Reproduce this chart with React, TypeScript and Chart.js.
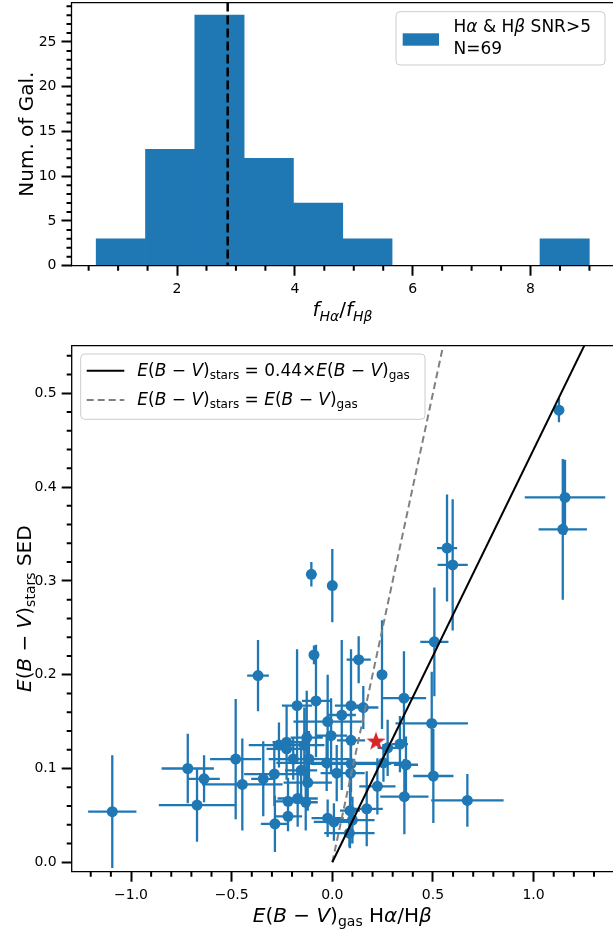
import React, { useEffect, useRef } from 'react';
import { Chart, registerables } from 'chart.js';

Chart.register(...registerables);
Chart.defaults.font.family = '"DejaVu Sans", sans-serif';

const BLUE = '#1f77b4';

// ---------- histogram (top) ----------
const binEdges = [0.628, 1.465, 2.302, 3.139, 3.976, 4.813, 5.65, 6.487, 7.324, 8.161, 8.998];
const binCounts = [3, 13, 28, 12, 7, 3, 0, 0, 0, 3];
const caseBRatio = 2.86;
const histXTicks = [2, 4, 6, 8];
const histYTicks = [0, 5, 10, 15, 20, 25];

// ---------- E(B-V) scatter (bottom) ----------
const gasEBV = [
  -1.093, -0.718, -0.637, -0.672, -0.48, -0.447, -0.369, -0.343, -0.285, -0.288,
  -0.265, -0.227, -0.227, -0.22, -0.22, -0.194, -0.175, -0.172, -0.155, -0.139,
  -0.127, -0.132, -0.122, -0.116, -0.081, -0.091, -0.023, -0.006, -0.028, 0.022,
  -0.023, 0.008, 0.047, 0.093, 0.093, 0.093, 0.091, 0.088, 0.085, 0.131,
  0.247, 0.507, 0.154, 0.356, 0.494, 0.275, 0.336, 0.254, 0.366, 0.502,
  0.224, 0.358, 0.671, 0.171, 0.1, -0.104, 0.0, 1.126, 1.156, 1.145,
  0.57, 0.598,
];
const starsEBV = [
  0.054, 0.1, 0.089, 0.061, 0.11, 0.083, 0.199, 0.089, 0.041, 0.094,
  0.125, 0.128, 0.121, 0.065, 0.049, 0.11, 0.167, 0.068, 0.098, 0.125,
  0.133, 0.064, 0.085, 0.11, 0.172, 0.221, 0.15, 0.135, 0.106, 0.095,
  0.047, 0.043, 0.157, 0.167, 0.13, 0.105, 0.095, 0.055, 0.031, 0.216,
  0.2, 0.235, 0.165, 0.175, 0.148, 0.122, 0.126, 0.106, 0.104, 0.092,
  0.081, 0.07, 0.066, 0.057, 0.045, 0.307, 0.295, 0.482, 0.389, 0.355,
  0.335, 0.317,
];
const gasErr = [
  0.12, 0.13, 0.078, 0.19, 0.127, 0.2, 0.054, 0.06, 0.07, 0.15,
  0.15, 0.07, 0.1, 0.07, 0.07, 0.066, 0.075, 0.1, 0.08, 0.1,
  0.08, 0.06, 0.12, 0.2, 0.07, 0.01, 0.17, 0.08, 0.25, 0.08,
  0.08, 0.1, 0.07, 0.08, 0.07, 0.2, 0.07, 0.05, 0.125, 0.06,
  0.02, 0.07, 0.075, 0.11, 0.18, 0.05, 0.04, 0.09, 0.06, 0.1,
  0.09, 0.12, 0.18, 0.08, 0.11, 0.01, 0.01, 0.01, 0.2, 0.12,
  0.05, 0.075,
];
const starsErr = [
  0.06, 0.037, 0.025, 0.039, 0.064, 0.049, 0.038, 0.04, 0.03, 0.034,
  0.024, 0.04, 0.03, 0.025, 0.016, 0.022, 0.06, 0.03, 0.03, 0.04,
  0.05, 0.03, 0.03, 0.03, 0.06, 0.01, 0.05, 0.04, 0.03, 0.03,
  0.02, 0.02, 0.08, 0.06, 0.03, 0.03, 0.03, 0.04, 0.015, 0.025,
  0.058, 0.058, 0.023, 0.05, 0.055, 0.03, 0.03, 0.02, 0.03, 0.05,
  0.03, 0.04, 0.028, 0.04, 0.025, 0.013, 0.039, 0.013, 0.04, 0.075,
  0.057, 0.07,
];
const highlightGas = [0.217];
const highlightStars = [0.1286];
const fitSlope = 0.44;
const lineX = [0, 1.4];
const oneToOneX = [0, 0.6];
const scatXTicks = [-1, -0.5, 0, 0.5, 1];
const scatYTicks = [0, 0.1, 0.2, 0.3, 0.4, 0.5];

// ---------- helpers ----------
type Seg = { t: string; i?: boolean; s?: number; dy?: number };
const fontStr = (s: number, italic?: boolean) =>
  `${italic ? 'italic ' : ''}${s}px "DejaVu Sans", sans-serif`;

function richWidth(ctx: CanvasRenderingContext2D, segs: Seg[], base: number) {
  let w = 0;
  for (const g of segs) {
    ctx.font = fontStr(g.s ?? base, g.i);
    w += ctx.measureText(g.t).width;
  }
  return w;
}
function drawRich(
  ctx: CanvasRenderingContext2D, segs: Seg[], x: number, y: number, base: number, align: 'left' | 'center' = 'left'
) {
  let cx = align === 'center' ? x - richWidth(ctx, segs, base) / 2 : x;
  ctx.textAlign = 'left';
  ctx.textBaseline = 'alphabetic';
  for (const g of segs) {
    ctx.font = fontStr(g.s ?? base, g.i);
    ctx.fillText(g.t, cx, y + (g.dy ?? 0));
    cx += ctx.measureText(g.t).width;
  }
}
function drawRotated(ctx: CanvasRenderingContext2D, segs: Seg[], x: number, y: number, base: number) {
  ctx.save();
  ctx.translate(x, y);
  ctx.rotate(-Math.PI / 2);
  drawRich(ctx, segs, 0, 0, base, 'center');
  ctx.restore();
}
function roundBox(ctx: CanvasRenderingContext2D, x: number, y: number, w: number, h: number, r: number) {
  ctx.beginPath();
  ctx.moveTo(x + r, y);
  ctx.lineTo(x + w - r, y);
  ctx.quadraticCurveTo(x + w, y, x + w, y + r);
  ctx.lineTo(x + w, y + h - r);
  ctx.quadraticCurveTo(x + w, y + h, x + w - r, y + h);
  ctx.lineTo(x + r, y + h);
  ctx.quadraticCurveTo(x, y + h, x, y + h - r);
  ctx.lineTo(x, y + r);
  ctx.quadraticCurveTo(x, y, x + r, y);
  ctx.closePath();
}
function minorValues(start: number, end: number, step: number, major: number) {
  const out: number[] = [];
  const n = Math.round((end - start) / step);
  for (let k = 0; k <= n; k++) {
    const v = start + k * step;
    const r = v / major;
    if (Math.abs(r - Math.round(r)) > 1e-6) out.push(v);
  }
  return out;
}
function drawFrame(chart: any, xMinor: number[], yMinor: number[]) {
  const { ctx, chartArea: a, scales } = chart;
  ctx.save();
  ctx.strokeStyle = '#000';
  ctx.lineWidth = 2;
  ctx.beginPath();
  for (const v of xMinor) {
    const p = scales.x.getPixelForValue(v);
    if (p < a.left || p > a.right) continue;
    ctx.moveTo(p, a.bottom);
    ctx.lineTo(p, a.bottom + 5);
  }
  for (const v of yMinor) {
    const p = scales.y.getPixelForValue(v);
    if (p < a.top || p > a.bottom) continue;
    ctx.moveTo(a.left, p);
    ctx.lineTo(a.left - 5, p);
  }
  ctx.stroke();
  ctx.lineWidth = 1.3;
  ctx.beginPath();
  ctx.moveTo(a.right + 2, a.top);
  ctx.lineTo(a.left, a.top);
  ctx.lineTo(a.left, a.bottom);
  ctx.lineTo(a.right + 2, a.bottom);
  ctx.stroke();
  ctx.restore();
}
const axisCommon = (ticksVals: number[], fmt: (v: number) => string) => ({
  type: 'linear' as const,
  offset: false,
  afterBuildTicks: (s: any) => {
    s.ticks = ticksVals.map((v) => ({ value: v }));
  },
  grid: { display: true, offset: false, drawOnChartArea: false, drawTicks: true, tickLength: 10, tickWidth: 2, tickColor: '#000' },
  border: { display: false },
  ticks: {
    color: '#000',
    font: { size: 14, family: '"DejaVu Sans", sans-serif' },
    padding: 5,
    autoSkip: false,
    maxRotation: 0,
    callback: (v: any) => fmt(Number(v)),
  },
});
const fixX = (h: number) => (s: any) => {
  s.height = h;
  s.paddingLeft = 0;
  s.paddingRight = 0;
};
const fixY = (w: number) => (s: any) => {
  s.width = w;
  s.paddingTop = 0;
  s.paddingBottom = 0;
};
const fmt1 = (v: number) => v.toFixed(1).replace('-', '\u2212');

export default function App() {
  const topRef = useRef<HTMLCanvasElement>(null);
  const botRef = useRef<HTMLCanvasElement>(null);

  useEffect(() => {
    document.body.style.margin = '0';

    // ---------- top histogram ----------
    const histPoints = binCounts.map((c, i) => ({ x: (binEdges[i] + binEdges[i + 1]) / 2, y: c }));
    const topPlugin = {
      id: 'topDeco',
      afterDatasetsDraw(chart: any) {
        const { ctx, chartArea: a, scales } = chart;
        const px = scales.x.getPixelForValue(caseBRatio);
        ctx.save();
        ctx.strokeStyle = '#000';
        ctx.lineWidth = 2.5;
        ctx.setLineDash([9, 4]);
        ctx.beginPath();
        ctx.moveTo(px, a.top);
        ctx.lineTo(px, a.bottom);
        ctx.stroke();
        ctx.restore();
      },
      afterDraw(chart: any) {
        const { ctx, chartArea: a } = chart;
        drawFrame(chart, minorValues(0.5, 9, 0.5, 2), minorValues(0, 29, 1, 5));
        ctx.save();
        roundBox(ctx, 396, 11.7, 209, 53.3, 4);
        ctx.fillStyle = 'rgba(255,255,255,0.8)';
        ctx.fill();
        ctx.strokeStyle = '#cccccc';
        ctx.lineWidth = 1;
        ctx.stroke();
        ctx.fillStyle = BLUE;
        ctx.fillRect(402.7, 33.3, 36.3, 12.4);
        ctx.fillStyle = '#000';
        drawRich(ctx, [{ t: 'H' }, { t: 'α', i: true }, { t: ' & H' }, { t: 'β', i: true }, { t: ' SNR>5' }], 453.5, 32.3, 17);
        drawRich(ctx, [{ t: 'N=69' }], 453.5, 54, 17);
        drawRotated(ctx, [{ t: 'Num. of Gal.' }], 33, (a.top + a.bottom) / 2, 20);
        drawRich(
          ctx,
          [
            { t: 'f', i: true },
            { t: 'Hα', i: true, s: 14, dy: 5 },
            { t: '/' },
            { t: 'f', i: true },
            { t: 'Hβ', i: true, s: 14, dy: 5 },
          ],
          342.5, 316, 20, 'center'
        );
        ctx.restore();
      },
    };
    const topChart = new Chart(topRef.current!, {
      type: 'bar',
      data: {
        datasets: [
          {
            data: histPoints as any,
            backgroundColor: BLUE,
            borderWidth: 0,
            barPercentage: 1,
            categoryPercentage: 1,
          },
        ],
      },
      options: {
        responsive: false,
        animation: false,
        devicePixelRatio: 1,
        layout: { autoPadding: false, padding: { top: 2.6, left: 0, right: 0, bottom: 0 } },
        plugins: { legend: { display: false }, tooltip: { enabled: false } },
        scales: {
          x: { ...axisCommon(histXTicks, (v) => String(v)), min: 0.209, max: 9.4, afterFit: fixX(330 - 265.7) } as any,
          y: { ...axisCommon(histYTicks, (v) => String(v)), min: 0, max: 29.4, afterFit: fixY(71.5) } as any,
        },
      },
      plugins: [topPlugin],
    });

    // ---------- bottom scatter ----------
    const starImg = document.createElement('canvas');
    starImg.width = 22;
    starImg.height = 22;
    const sc = starImg.getContext('2d')!;
    sc.fillStyle = '#d62728';
    sc.beginPath();
    for (let k = 0; k < 10; k++) {
      const r = k % 2 === 0 ? 10 : 3.9;
      const ang = -Math.PI / 2 + (k * Math.PI) / 5;
      const px = 11 + r * Math.cos(ang);
      const py = 11 + r * Math.sin(ang);
      if (k === 0) sc.moveTo(px, py);
      else sc.lineTo(px, py);
    }
    sc.closePath();
    sc.fill();

    const errPlugin = {
      id: 'errBars',
      beforeDatasetsDraw(chart: any) {
        const { ctx, chartArea: a, scales } = chart;
        ctx.save();
        ctx.beginPath();
        ctx.rect(a.left, a.top, a.right - a.left, a.bottom - a.top);
        ctx.clip();
        ctx.strokeStyle = BLUE;
        ctx.lineWidth = 2.3;
        ctx.beginPath();
        for (let i = 0; i < gasEBV.length; i++) {
          const x0 = scales.x.getPixelForValue(gasEBV[i] - gasErr[i]);
          const x1 = scales.x.getPixelForValue(gasEBV[i] + gasErr[i]);
          const y = scales.y.getPixelForValue(starsEBV[i]);
          const y0 = scales.y.getPixelForValue(starsEBV[i] - starsErr[i]);
          const y1 = scales.y.getPixelForValue(starsEBV[i] + starsErr[i]);
          const x = scales.x.getPixelForValue(gasEBV[i]);
          ctx.moveTo(x0, y);
          ctx.lineTo(x1, y);
          ctx.moveTo(x, y0);
          ctx.lineTo(x, y1);
        }
        ctx.stroke();
        ctx.restore();
      },
      afterDraw(chart: any) {
        const { ctx, chartArea: a } = chart;
        drawFrame(chart, minorValues(-1.3, 1.4, 0.1, 0.5), minorValues(0, 0.54, 0.02, 0.1));
        ctx.save();
        roundBox(ctx, 80.7, 24, 344.3, 65.3, 4);
        ctx.fillStyle = 'rgba(255,255,255,0.8)';
        ctx.fill();
        ctx.strokeStyle = '#cccccc';
        ctx.lineWidth = 1;
        ctx.stroke();
        ctx.lineWidth = 2;
        ctx.strokeStyle = '#000';
        ctx.beginPath();
        ctx.moveTo(86.7, 40.7);
        ctx.lineTo(124.3, 40.7);
        ctx.stroke();
        ctx.strokeStyle = '#808080';
        ctx.setLineDash([7, 4]);
        ctx.beginPath();
        ctx.moveTo(86.7, 70);
        ctx.lineTo(124.3, 70);
        ctx.stroke();
        ctx.setLineDash([]);
        ctx.fillStyle = '#000';
        const ebv = (sub: string, subS: number, dy: number): Seg[] => [
          { t: 'E', i: true },
          { t: '(' },
          { t: 'B', i: true },
          { t: ' \u2212 ' },
          { t: 'V', i: true },
          { t: ')' },
          { t: sub, s: subS, dy },
        ];
        drawRich(ctx, [...ebv('stars', 12, 3), { t: ' = 0.44×' }, ...ebv('gas', 12, 3)], 137.3, 45.7, 17);
        drawRich(ctx, [...ebv('stars', 12, 3), { t: ' = ' }, ...ebv('gas', 12, 3)], 137.3, 75, 17);
        drawRotated(ctx, [...ebv('stars', 14, 4), { t: ' SED' }], 31, (a.top + a.bottom) / 2, 20);
        drawRich(
          ctx,
          [...ebv('gas', 14, 4), { t: ' H' }, { t: 'α', i: true }, { t: '/H' }, { t: 'β', i: true }],
          342.3, 591.7, 20, 'center'
        );
        ctx.restore();
      },
    };

    const botChart = new Chart(botRef.current!, {
      type: 'scatter',
      data: {
        datasets: [
          {
            data: highlightGas.map((x, i) => ({ x, y: highlightStars[i] })),
            pointStyle: starImg as any,
            pointRadius: 10,
            order: 0,
          },
          {
            type: 'line',
            data: lineX.map((x) => ({ x, y: fitSlope * x })),
            borderColor: '#000',
            borderWidth: 2,
            pointRadius: 0,
            showLine: true,
            fill: false,
            order: 1,
          } as any,
          {
            type: 'line',
            data: oneToOneX.map((x) => ({ x, y: x })),
            borderColor: '#808080',
            borderWidth: 2,
            borderDash: [7, 4],
            pointRadius: 0,
            showLine: true,
            fill: false,
            order: 1,
          } as any,
          {
            data: gasEBV.map((x, i) => ({ x, y: starsEBV[i] })),
            backgroundColor: BLUE,
            borderColor: BLUE,
            borderWidth: 0,
            pointRadius: 5.5,
            order: 2,
          },
        ],
      },
      options: {
        responsive: false,
        animation: false,
        devicePixelRatio: 1,
        layout: { autoPadding: false, padding: { top: 15.7, left: 0, right: 0, bottom: 0 } },
        plugins: { legend: { display: false }, tooltip: { enabled: false } },
        scales: {
          x: { ...axisCommon(scatXTicks, fmt1), min: -1.2946, max: 1.3945, afterFit: fixX(600 - 541.7) } as any,
          y: { ...axisCommon(scatYTicks, fmt1), min: -0.01002, max: 0.5507, afterFit: fixY(71.7) } as any,
        },
      },
      plugins: [errPlugin],
    });

    return () => {
      topChart.destroy();
      botChart.destroy();
    };
  }, []);

  return (
    <div style={{ position: 'relative', width: 613, height: 930, overflow: 'hidden', background: '#fff' }}>
      <canvas ref={topRef} width={613} height={330} style={{ position: 'absolute', left: 0, top: 0 }} />
      <canvas ref={botRef} width={613} height={600} style={{ position: 'absolute', left: 0, top: 330 }} />
    </div>
  );
}
